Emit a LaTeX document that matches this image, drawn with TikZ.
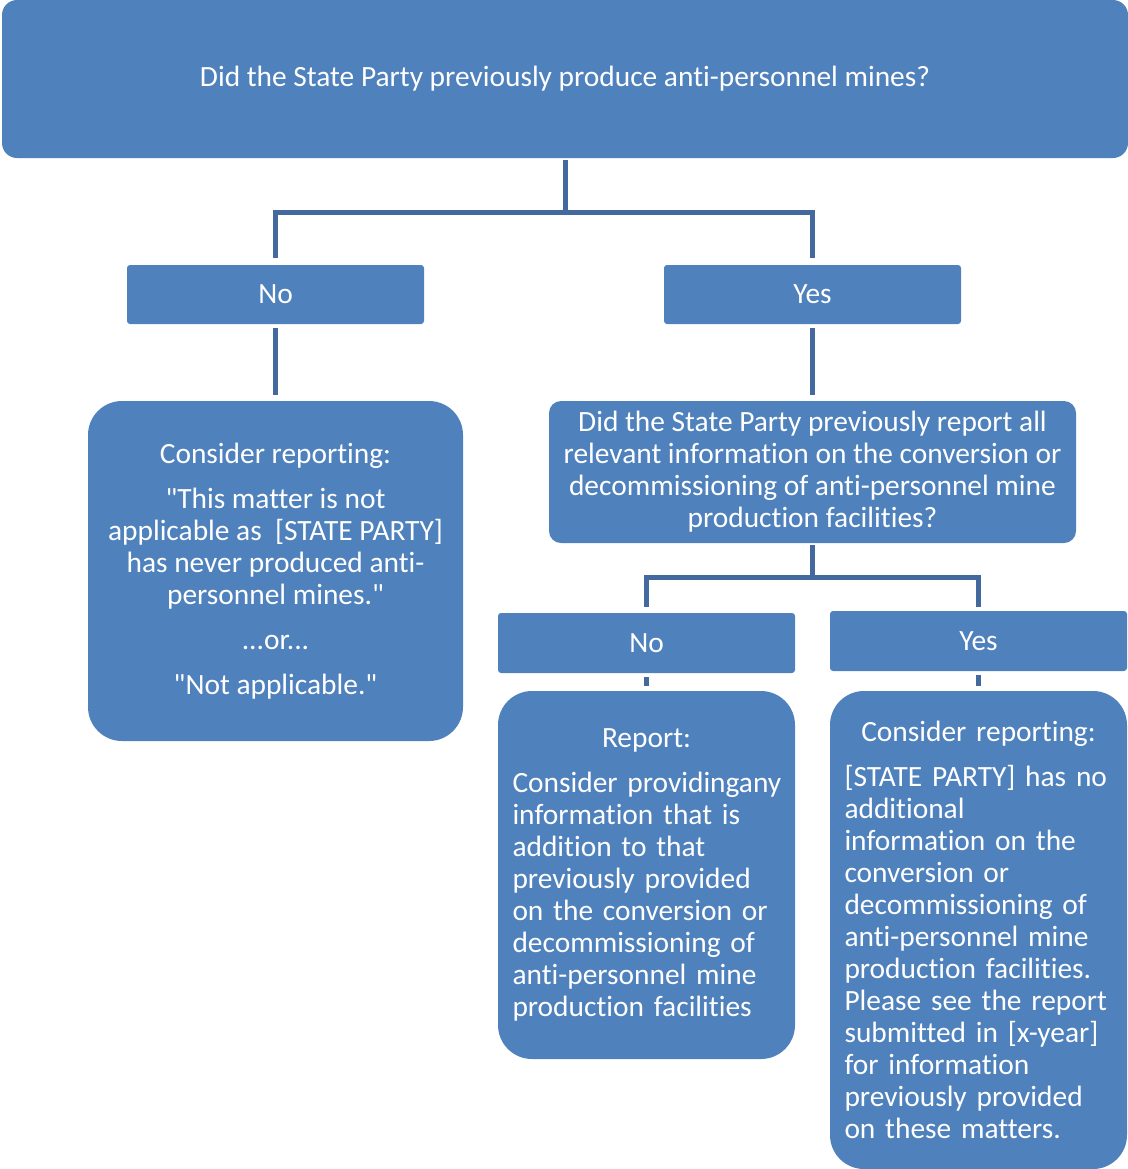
\documentclass[tikz,border=0pt]{standalone}
\usepackage{fontspec}
\setmainfont{Carlito}[Ligatures={TeXOff,NoCommon}]
\usetikzlibrary{positioning}
\definecolor{boxblue}{HTML}{4F81BD}
\definecolor{linkblue}{HTML}{43699F}

\begin{document}
\begin{tikzpicture}[x=0.5pt,y=-0.5pt,
  every node/.style={fill=boxblue,text=white,font=\fontsize{14.7}{16}\selectfont,inner sep=0pt},
  answer/.style={minimum width=148.5pt,minimum height=29.5pt,rounded corners=1.5pt},
  bigbox/.style={rounded corners=17pt,align=center},
  link/.style={draw=linkblue,line width=2.5pt,line join=miter}]
\useasboundingbox (0,0) rectangle (1128,1169);
% first question
\node[minimum width=563pt,minimum height=79pt,rounded corners=7.5pt] (top) at (565,79)
  {Did the State Party previously produce anti-personnel mines?};
\node[answer] (no1) at (275.5,294.5) {No};
\node[answer] (yes1) at (812.5,294.5) {Yes};
\node[bigbox,minimum width=187.5pt,minimum height=170pt] (con1) at (275.5,571)
  {Consider reporting:\\[6.5pt]
   "This matter is not\\
   applicable as\ \ [STATE PARTY]\\
   has never produced anti-\\
   personnel mines."\\[6.5pt]
   ...or...\\[6.5pt]
   "Not applicable."};
% second question
\node[bigbox,minimum width=263.5pt,minimum height=71pt,rounded corners=6pt] (ques2) at (812.5,472)
  {Did the State Party previously report all\\
   relevant information on the conversion or\\
   decommissioning of anti-personnel mine\\
   production facilities?};
\node[answer,minimum height=30pt] (no2) at (646.5,643) {No};
\node[answer,minimum height=30pt] (yes2) at (978.5,641) {Yes};
\node[bigbox,align=left,text width=134pt,minimum width=148.5pt,minimum height=184pt] (rep) at (646.5,875)
  {\makebox[\linewidth]{Report:}\\[6.5pt]
   \mbox{Consider providingany}\\
   information that is\\
   addition to that\\
   previously provided\\
   on the conversion or\\
   decommissioning of\\
   anti-personnel mine\\
   production facilities};
\node[bigbox,align=left,text width=134pt,minimum width=148.5pt,minimum height=239pt] (con2) at (978.5,930)
  {\makebox[\linewidth]{Consider reporting:}\\[6.5pt]
   [STATE PARTY] has no\\
   additional\\
   information on the\\
   conversion or\\
   decommissioning of\\
   anti-personnel mine\\
   production facilities.\\
   Please see the report\\
   submitted in [x-year]\\
   for information\\
   previously provided\\
   on these matters.};
% connectors
\coordinate (fork1) at (565,212);
\coordinate (fork2) at (812.5,577);
\draw[link] ([yshift=-1pt]top.south) -- (fork1);
\draw[link] ([yshift=3.5pt]no1.north) -- (no1.north |- fork1) -- (yes1.north |- fork1) -- ([yshift=3.5pt]yes1.north);
\draw[link] ([yshift=-2pt]no1.south) -- ([yshift=3pt]con1.north);
\draw[link] ([yshift=-2pt]yes1.south) -- ([yshift=3pt]ques2.north);
\draw[link] ([yshift=-1pt]ques2.south) -- (fork2);
\draw[link] ([yshift=3pt]no2.north) -- (no2.north |- fork2) -- (yes2.north |- fork2) -- ([yshift=2pt]yes2.north);
\draw[link] ([yshift=-2pt]no2.south) -- ([yshift=2.5pt]rep.north);
\draw[link] ([yshift=-2pt]yes2.south) -- ([yshift=2.5pt]con2.north);
\end{tikzpicture}
\end{document}
